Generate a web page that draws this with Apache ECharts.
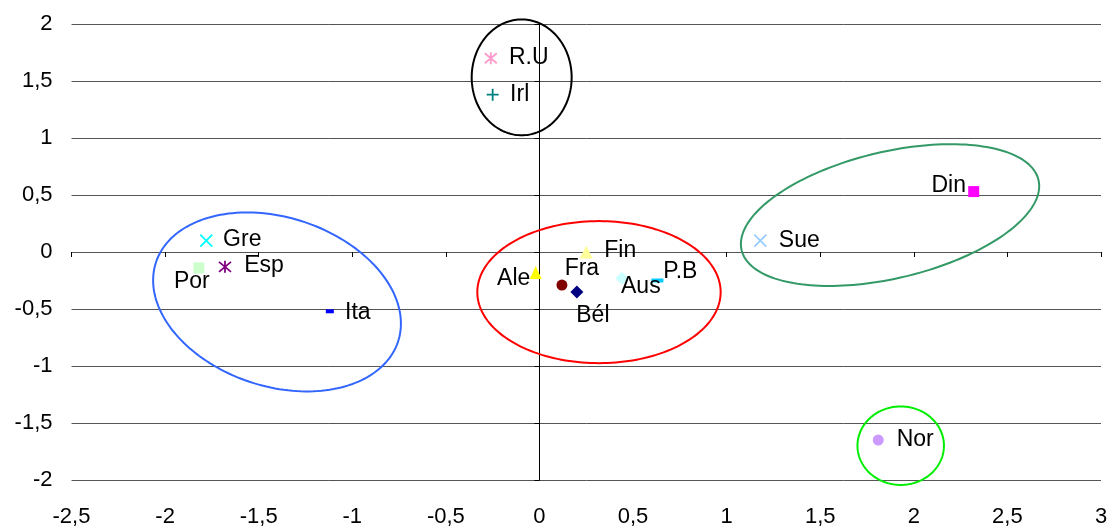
<!DOCTYPE html>
<html>
<head>
<meta charset="utf-8">
<script src="https://cdn.jsdelivr.net/npm/echarts@6/dist/echarts.min.js"></script>
<style>
  html, body { margin: 0; padding: 0; background: #fff; }
  #chart { width: 1111px; height: 527px; }
</style>
</head>
<body>
<div id="chart"></div>
<script>
// Country scores on the first two factorial axes
const countries = ['R.U', 'Irl', 'Gre', 'Por', 'Esp', 'Ita', 'Ale', 'Fin', 'Fra', 'Bél', 'Aus', 'P.B', 'Sue', 'Din', 'Nor'];
const axis1 = [-0.26, -0.25, -1.78, -1.82, -1.68, -1.12, -0.02, 0.25, 0.12, 0.20, 0.44, 0.63, 1.18, 2.32, 1.81];
const axis2 = [1.70, 1.38, 0.10, -0.14, -0.13, -0.52, -0.18, 0.00, -0.29, -0.35, -0.23, -0.25, 0.10, 0.53, -1.65];

// Axis ranges and ticks
const xTicks = { min: -2.5, max: 3, step: 0.5 };
const yTicks = { min: -2, max: 2, step: 0.5 };

// Group outlines: centre and two conjugate semi-diameters, all in axis units
const groupCenterX = [-0.095, -1.402, 0.318, 1.873, 1.930];
const groupCenterY = [1.532, -0.438, -0.352, 0.324, -1.699];
const groupU = [[0.267, 0], [0.650, -0.330], [0.650, 0], [0.793, 0.308], [0.231, 0]];
const groupV = [[0, 0.508], [-0.125, -0.712], [0, 0.623], [0.078, -0.540], [0, 0.344]];
const groupColors = ['#000000', '#3366ff', '#ff0000', '#339966', '#00ee00'];

// Marker styles (Excel-like default palette)
const CROSS = 'path://M0,0L10,10M10,0L0,10';
const STAR = 'path://M0,0L10,10M10,0L0,10M5,-1L5,11';
const PLUS = 'path://M5,0L5,10M0,5L10,5';
const markerStyle = {
  'R.U': { symbol: STAR, size: 12, color: '#ff99cc', stroke: true },
  'Irl': { symbol: PLUS, size: 12, color: '#008080', stroke: true },
  'Gre': { symbol: CROSS, size: 12, color: '#00ffff', stroke: true },
  'Por': { symbol: 'rect', size: 11, color: '#ccffcc' },
  'Esp': { symbol: STAR, size: 12, color: '#800080', stroke: true },
  'Ita': { symbol: 'rect', size: [8, 4], color: '#0000ff' },
  'Ale': { symbol: 'triangle', size: [12, 13], color: '#ffff00' },
  'Fin': { symbol: 'triangle', size: [13, 13], color: '#ffff99' },
  'Fra': { symbol: 'circle', size: 11, color: '#800000' },
  'Bél': { symbol: 'diamond', size: 13, color: '#000080' },
  'Aus': { symbol: 'diamond', size: 13, color: '#ccffff' },
  'P.B': { symbol: 'rect', size: [12, 4], color: '#00ccff' },
  'Sue': { symbol: CROSS, size: 12, color: '#99ccff', stroke: true },
  'Din': { symbol: 'rect', size: 11, color: '#ff00ff' },
  'Nor': { symbol: 'circle', size: 11, color: '#cc99ff' }
};
// Label centre offsets from each marker, in pixels
const labelOffset = {
  'R.U': [38, -1], 'Irl': [27, 0], 'Gre': [36, -1], 'Por': [-7, 14], 'Esp': [39, -1],
  'Ita': [28, 1], 'Ale': [-22, 6], 'Fin': [34, -1], 'Fra': [20, -16], 'Bél': [16, 24],
  'Aus': [19, 8], 'P.B': [23, -9], 'Sue': [39, 0], 'Din': [-25, -6], 'Nor': [37, 0]
};

const FONT = "'Liberation Sans', Arial, sans-serif";
const fmt = v => String(Math.round(v * 10) / 10).replace('.', ',');

const points = countries.map((name, i) => {
  const s = markerStyle[name];
  return {
    name,
    value: [axis1[i], axis2[i]],
    symbol: s.symbol,
    symbolSize: s.size,
    itemStyle: s.stroke
      ? { color: 'none', borderColor: s.color, borderWidth: 1.8, opacity: 1 }
      : { color: s.color, borderWidth: 0, opacity: 1 },
    label: {
      show: true,
      position: 'inside',
      offset: labelOffset[name],
      formatter: '{b}',
      color: '#000',
      fontSize: 23,
      fontFamily: FONT
    }
  };
});

const groups = groupCenterX.map((cx, i) => [cx, groupCenterY[i], i]);

function renderGroup(params, api) {
  const i = api.value(2);
  const cx = groupCenterX[i], cy = groupCenterY[i];
  const u = groupU[i], v = groupV[i];
  const pts = [];
  const n = 180;
  for (let k = 0; k < n; k++) {
    const t = (2 * Math.PI * k) / n;
    const c = Math.cos(t), s = Math.sin(t);
    pts.push(api.coord([cx + u[0] * c + v[0] * s, cy + u[1] * c + v[1] * s]));
  }
  return {
    type: 'polygon',
    shape: { points: pts },
    style: { fill: 'none', stroke: groupColors[i], lineWidth: 2 }
  };
}

const chart = echarts.init(document.getElementById('chart'), null, { renderer: 'canvas' });
chart.setOption({
  backgroundColor: '#ffffff',
  animation: false,
  grid: { left: 71.5, right: 10, top: 24, bottom: 47, containLabel: false, outerBoundsMode: 'none' },
  xAxis: [
    {
      type: 'value', min: xTicks.min, max: xTicks.max, interval: xTicks.step,
      position: 'bottom',
      axisLine: { show: false, onZero: false },
      axisTick: { show: false },
      splitLine: { show: false },
      axisLabel: { formatter: fmt, color: '#000', fontSize: 22, fontFamily: FONT, margin: 26 }
    },
    {
      type: 'value', min: xTicks.min, max: xTicks.max, interval: xTicks.step,
      position: 'bottom',
      axisLine: { show: true, onZero: true, onZeroAxisIndex: 0, lineStyle: { color: '#555', width: 1 } },
      axisTick: { show: true, length: 5, lineStyle: { color: '#000', width: 1 } },
      splitLine: { show: false },
      axisLabel: { show: false }
    }
  ],
  yAxis: [
    {
      type: 'value', min: yTicks.min, max: yTicks.max, interval: yTicks.step,
      position: 'left',
      axisLine: { show: false, onZero: false },
      axisTick: { show: false },
      splitLine: { show: true, lineStyle: { color: '#555', width: 1 } },
      axisLabel: { formatter: fmt, color: '#000', fontSize: 22, fontFamily: FONT, margin: 19 }
    },
    {
      type: 'value', min: yTicks.min, max: yTicks.max, interval: yTicks.step,
      position: 'left',
      axisLine: { show: true, onZero: true, onZeroAxisIndex: 0, lineStyle: { color: '#000', width: 1 } },
      axisTick: { show: true, length: 5, lineStyle: { color: '#000', width: 1 } },
      splitLine: { show: false },
      axisLabel: { show: false }
    }
  ],
  series: [
    {
      type: 'custom',
      xAxisIndex: 0, yAxisIndex: 0,
      renderItem: renderGroup,
      data: groups,
      encode: { x: 0, y: 1 },
      clip: false,
      silent: true,
      z: 3
    },
    {
      type: 'scatter',
      xAxisIndex: 0, yAxisIndex: 0,
      data: points,
      itemStyle: { opacity: 1 },
      z: 5
    }
  ]
});
</script>
</body>
</html>
